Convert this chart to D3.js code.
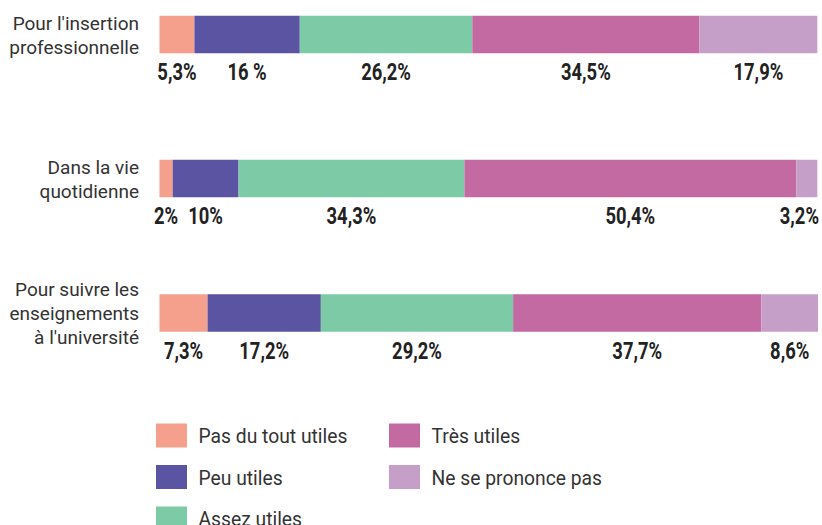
<!DOCTYPE html>
<html><head><meta charset="utf-8">
<script src="https://cdn.jsdelivr.net/npm/d3@7"></script>
<style>body{margin:0;background:#fff}svg{display:block}</style>
</head><body>
<script>
const categories = [
  ["Pour l'insertion", "professionnelle"],
  ["Dans la vie", "quotidienne"],
  ["Pour suivre les", "enseignements", "à l'université"]
];
const seriesNames = ["Pas du tout utiles", "Peu utiles", "Assez utiles", "Très utiles", "Ne se prononce pas"];
const pasDuTout = [5.3, 2, 7.3];
const peu = [16, 10, 17.2];
const assez = [26.2, 34.3, 29.2];
const tres = [34.5, 50.4, 37.7];
const nsp = [17.9, 3.2, 8.6];
const valueLabels = [
  ["5,3%", "16 %", "26,2%", "34,5%", "17,9%"],
  ["2%", "10%", "34,3%", "50,4%", "3,2%"],
  ["7,3%", "17,2%", "29,2%", "37,7%", "8,6%"]
];
const colors = ["#F5A08C", "#5B54A3", "#7DCAA6", "#C46AA3", "#C69FC8"];

const W = 822, H = 525;
const svg = d3.select("body").append("svg").attr("width", W).attr("height", H);

const series = [pasDuTout, peu, assez, tres, nsp];
const rows = categories.map((c, i) => {
  const o = {i};
  seriesNames.forEach((s, k) => o[s] = series[k][i]);
  return o;
});
const stack = d3.stack().keys(seriesNames)(rows);

const x = d3.scaleLinear().domain([0, 100]).range([159.5, 818]);
const yCenters = [34.5, 178.5, 313];
const barH = 37.5;

const g = svg.append("g");
stack.forEach((layer, k) => {
  g.selectAll(null).data(layer).enter().append("rect")
    .attr("x", d => x(d[0]))
    .attr("width", d => Math.min(x(d[1]), x(100)) - x(d[0]))
    .attr("y", (d, i) => yCenters[i] - barH / 2)
    .attr("height", barH)
    .attr("fill", colors[k]);
});

// value labels
const sx = 0.8;
stack.forEach((layer, k) => {
  layer.forEach((d, i) => {
    const txt = valueLabels[i][k];
    const t = svg.append("text")
      .attr("font-family", "Roboto, 'Liberation Sans', sans-serif")
      .attr("font-weight", 700)
      .attr("font-size", 23)
      .attr("fill", "#222")
      .attr("text-anchor", "middle")
      .text(txt);
    const w = t.node().getComputedTextLength() * sx;
    let cx = (x(d[0]) + Math.min(x(d[1]), x(100))) / 2;
    cx = Math.max(151 + w / 2, Math.min(819 - w / 2, cx));
    const by = yCenters[i] + barH / 2 + 27;
    t.attr("transform", `translate(${cx},${by}) scale(${sx},1)`);
  });
});

// category labels
categories.forEach((lines, i) => {
  const n = lines.length;
  const t = svg.append("text")
    .attr("font-family", "Roboto, 'Liberation Sans', sans-serif")
    .attr("font-size", 19)
    .attr("fill", "#333")
    .attr("text-anchor", "end");
  lines.forEach((l, j) => {
    t.append("tspan").attr("x", 139)
      .attr("y", yCenters[i] + 7 + (j - (n - 1) / 2) * 24)
      .text(l);
  });
});

// legend
const legendPos = [[156, 423.5], [156, 465], [156, 506.5], [389, 423.5], [389, 465]];
const lg = svg.append("g");
seriesNames.forEach((s, k) => {
  const [lx, ly] = legendPos[k];
  lg.append("rect").attr("x", lx).attr("y", ly).attr("width", 31).attr("height", 24).attr("fill", colors[k]);
  lg.append("text").attr("x", lx + 42.5).attr("y", ly + 19.5)
    .attr("font-family", "Roboto, 'Liberation Sans', sans-serif")
    .attr("font-size", 19.3).attr("fill", "#333").text(s);
});
</script>
</body></html>
